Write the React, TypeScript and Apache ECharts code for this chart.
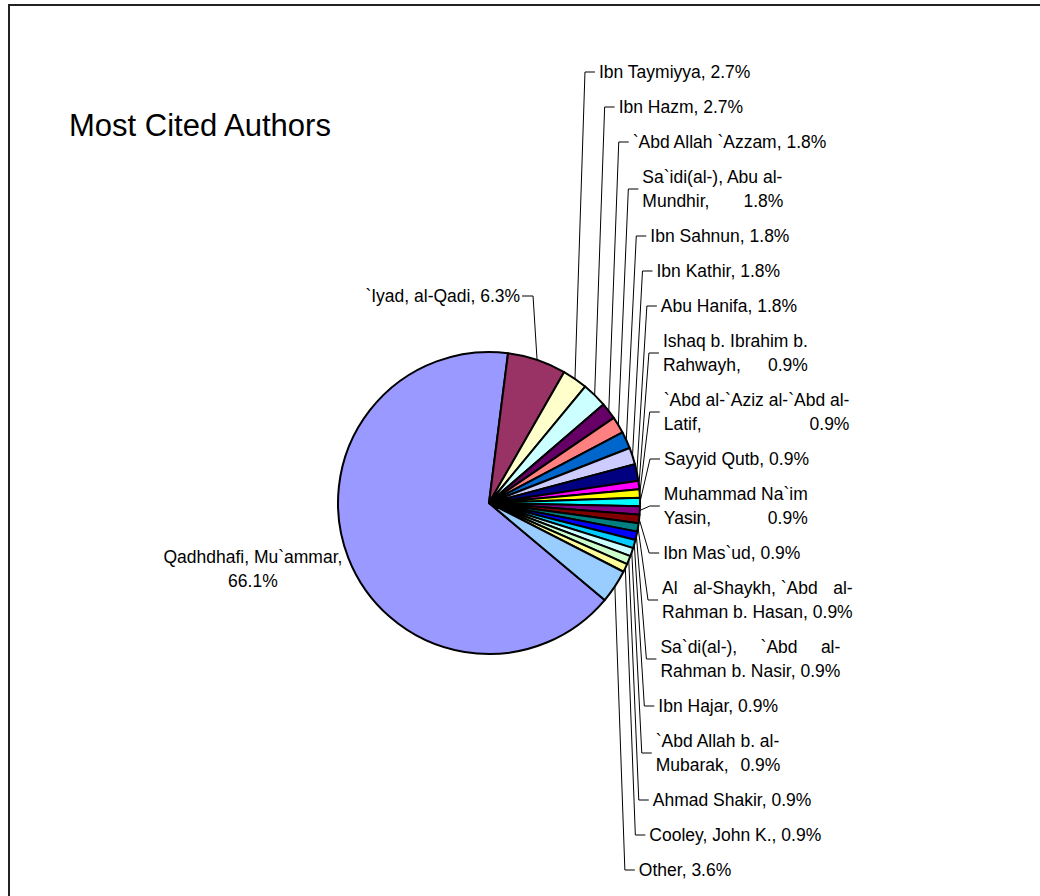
import React, { useEffect, useRef } from "react";
import * as echarts from "echarts";

// ---- data ----
const authors: string[] = [
  "Qadhdhafi, Mu`ammar",
  "`Iyad, al-Qadi",
  "Ibn Taymiyya",
  "Ibn Hazm",
  "`Abd Allah `Azzam",
  "Sa`idi(al-), Abu al-\nMundhir",
  "Ibn Sahnun",
  "Ibn Kathir",
  "Abu Hanifa",
  "Ishaq b. Ibrahim b.\nRahwayh",
  "`Abd al-`Aziz al-`Abd al-\nLatif",
  "Sayyid Qutb",
  "Muhammad Na`im\nYasin",
  "Ibn Mas`ud",
  "Al al-Shaykh, `Abd al-\nRahman b. Hasan",
  "Sa`di(al-), `Abd al-\nRahman b. Nasir",
  "Ibn Hajar",
  "`Abd Allah b. al-\nMubarak",
  "Ahmad Shakir",
  "Cooley, John K.",
  "Other",
];

const shares: number[] = [
  66.1, 6.3, 2.7, 2.7, 1.8, 1.8, 1.8, 1.8, 1.8, 0.9, 0.9, 0.9, 0.9, 0.9, 0.9,
  0.9, 0.9, 0.9, 0.9, 0.9, 3.6,
];

const sliceColors: string[] = [
  "#9999FF", "#993366", "#FFFFCC", "#CCFFFF", "#660066", "#FF8080", "#0066CC",
  "#CCCCFF", "#000080", "#FF00FF", "#FFFF00", "#00FFFF", "#800080", "#800000",
  "#008080", "#0000FF", "#00CCFF", "#CCFFFF", "#CCFFCC", "#FFFF99", "#99CCFF",
];

const chartTitle = "Most Cited Authors";

// ---- layout (styles / positions) ----
const CX = 489;
const CY = 503;
const R = 151;
const START_ANGLE = -40;
const FONT_NAME = "Liberation Sans";
const FONT = "'Liberation Sans', Arial, sans-serif";
const LABEL_SIZE = 17.5;
const LINE_H = 24;
const LABEL_GAP = 11;
const RIGHT_TOP = 72;

let measureCtx: CanvasRenderingContext2D | null = null;
function textWidth(s: string): number {
  if (!measureCtx) {
    const c = document.createElement("canvas");
    measureCtx = c.getContext("2d");
  }
  if (!measureCtx) return s.length * LABEL_SIZE * 0.5;
  measureCtx.font = `${LABEL_SIZE}px "${FONT_NAME}"`;
  return measureCtx.measureText(s).width;
}

function labelText(name: string, value: number, index: number): string {
  const val = `${value}%`;
  if (index === 0) return `${name},\n${val}`;
  if (!name.includes("\n")) return `${name}, ${val}`;
  const [l1, l2] = name.split("\n");
  const line2 = `${l2}, ${val}`;
  if (textWidth(l1) >= textWidth(line2)) {
    // first line is the widest: push the value to the right edge (justified look)
    return `{n|${l1}}\n{n|${l2},}{r|${val}}`;
  }
  // second line is the widest: spread the first line's words across it
  const words = l1.split(" ");
  if (words.length >= 3) {
    const first = words[0];
    const last = words[words.length - 1];
    const middle = words.slice(1, -1).join(" ");
    return `{n|${first}}{c|${middle}}{r|${last}}\n{n|${line2}}`;
  }
  return `{n|${l1}}\n{n|${line2}}`;
}

export default function App() {
  const ref = useRef<HTMLDivElement>(null);

  useEffect(() => {
    if (!ref.current) return;
    const chart = echarts.init(ref.current, undefined, { renderer: "svg" });

    const total = shares.reduce((a, b) => a + b, 0);
    const mids: number[] = [];
    let acc = 0;
    shares.forEach((v) => {
      const a0 = -START_ANGLE + (acc / total) * 360;
      acc += v;
      const a1 = -START_ANGLE + (acc / total) * 360;
      mids.push(((a0 + a1) / 2) * (Math.PI / 180));
    });
    const edge = (i: number) => [CX + R * Math.cos(mids[i]), CY + R * Math.sin(mids[i])];

    // stack right-side labels top to bottom
    const rightY: number[] = [];
    let prevH = 0;
    let y = RIGHT_TOP;
    for (let i = 2; i < authors.length; i++) {
      const h = authors[i].split("\n").length * LINE_H;
      if (i > 2) y += (prevH + h) / 2 + LABEL_GAP;
      rightY[i] = y;
      prevH = h;
    }

    const data = authors.map((name, i) => {
      const item: any = { name, value: shares[i], itemStyle: { color: sliceColors[i] } };
      if (i === 0) item.labelLine = { show: false };
      return item;
    });

    const tok = { fontFamily: FONT, fontSize: LABEL_SIZE, lineHeight: LINE_H, color: "#000" };

    chart.setOption({
      animation: false,
      backgroundColor: "#ffffff",
      title: {
        text: chartTitle,
        left: 69,
        top: 110,
        padding: 0,
        textStyle: { fontFamily: FONT, fontSize: 31, fontWeight: "normal", color: "#000" },
      },
      graphic: [
        {
          type: "rect",
          silent: true,
          z: -10,
          shape: { x: 9, y: 5, width: 2000, height: 2000 },
          style: { fill: "none", stroke: "#222", lineWidth: 2 },
        },
      ],
      series: [
        {
          type: "pie",
          center: [CX, CY],
          radius: R,
          startAngle: START_ANGLE,
          clockwise: true,
          avoidLabelOverlap: false,
          data,
          itemStyle: { borderColor: "#000", borderWidth: 2 },
          emphasis: { disabled: true },
          label: {
            show: true,
            position: "outside",
            overflow: "none",
            color: "#000",
            fontFamily: FONT,
            fontSize: LABEL_SIZE,
            lineHeight: LINE_H,
            formatter: (p: any) => labelText(p.name, p.value, p.dataIndex),
            rich: {
              n: { ...tok },
              c: { ...tok, align: "center" },
              r: { ...tok, align: "right" },
            },
          },
          labelLine: { show: true, lineStyle: { color: "#000", width: 1 } },
          labelLayout: (p: any) => {
            const i = p.dataIndex;
            const [ex, ey] = edge(i);
            if (i === 0) {
              return {
                x: ex - 6 - p.labelRect.width / 2,
                y: ey + 11,
                align: "center",
                verticalAlign: "middle",
              };
            }
            if (i === 1) {
              const ly = CY - R - 56;
              return {
                x: ex - 17,
                y: ly,
                align: "right",
                verticalAlign: "middle",
                labelLinePoints: [
                  [ex, ey],
                  [ex - 4, ly],
                  [ex - 15, ly],
                ],
              };
            }
            const ly = rightY[i];
            return {
              x: ex + 24,
              y: ly,
              align: "left",
              verticalAlign: "middle",
              labelLinePoints: [
                [ex, ey],
                [ex + 10, ly],
                [ex + 20, ly],
              ],
            };
          },
        },
      ],
    });

    return () => chart.dispose();
  }, []);

  return (
    <div
      ref={ref}
      style={{ position: "fixed", left: 0, top: 0, width: 1040, height: 896, background: "#fff" }}
    />
  );
}
